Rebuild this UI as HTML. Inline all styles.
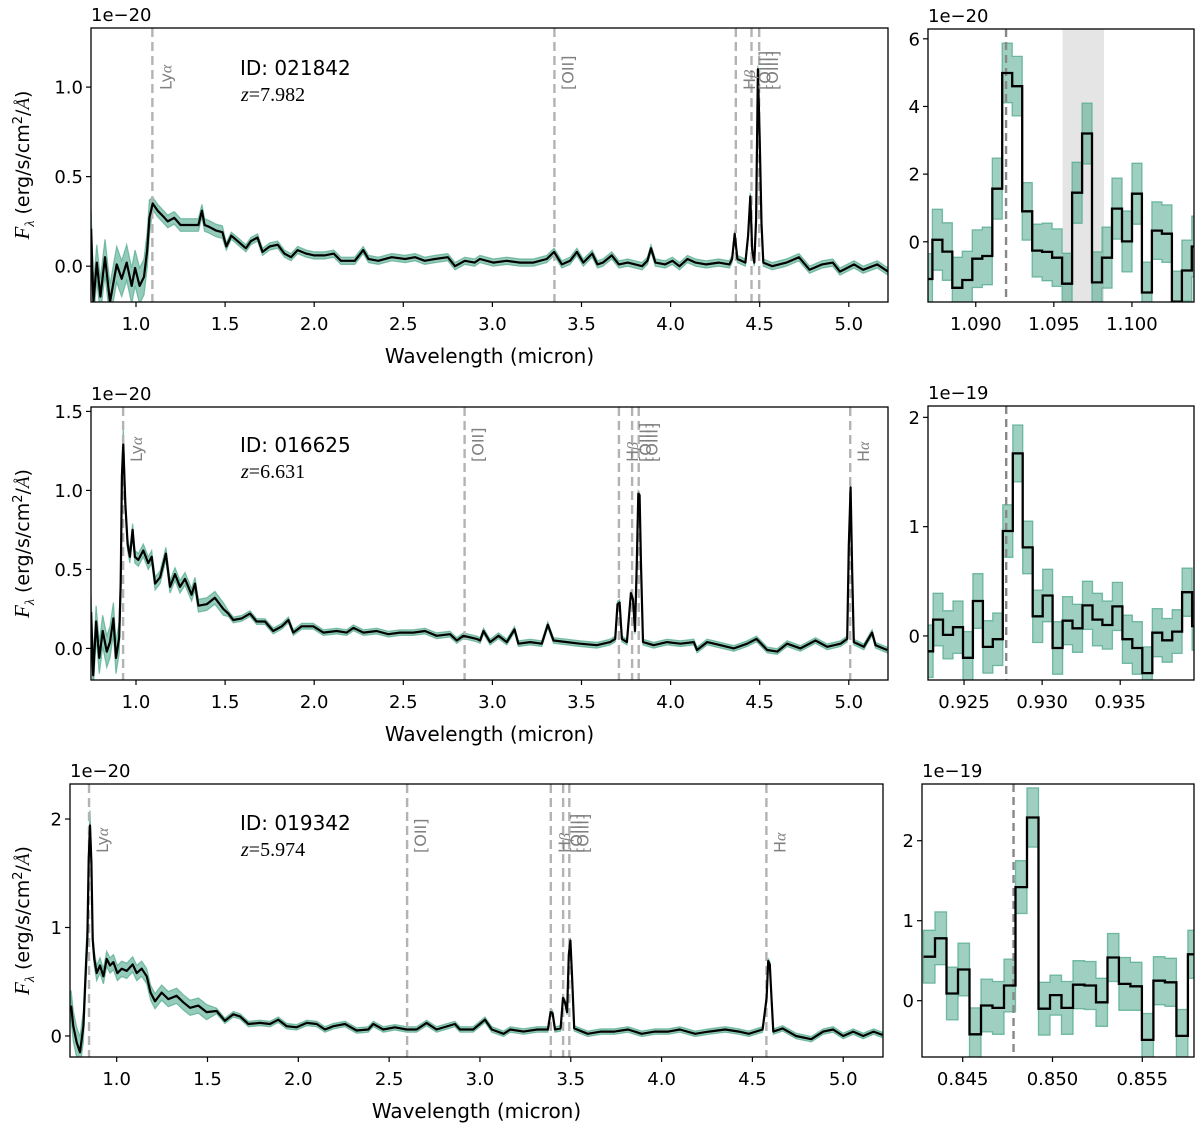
<!DOCTYPE html>
<html><head><meta charset="utf-8"><style>
html,body{margin:0;padding:0;background:#fff;}
svg{display:block;font-family:"DejaVu Sans","Liberation Sans",sans-serif;}
</style></head><body>
<svg id="fig" width="1200" height="1130" viewBox="0 0 1200 1130" xmlns="http://www.w3.org/2000/svg"></svg>
<script>
// ---------- Panel 1 (ID 021842) ----------
const p1Wave=[0.748,0.761,0.78,0.80,0.826,0.854,0.892,0.92,0.948,0.976,0.995,1.02,1.045,1.063,1.075,1.094,1.122,1.16,1.178,1.215,1.25,1.29,1.33,1.35,1.37,1.385,1.41,1.447,1.485,1.507,1.535,1.57,1.617,1.645,1.682,1.71,1.75,1.795,1.833,1.87,1.907,1.955,2.0,2.057,2.11,2.15,2.2,2.228,2.275,2.305,2.36,2.435,2.51,2.566,2.62,2.678,2.75,2.79,2.845,2.9,2.93,3.005,3.08,3.155,3.23,3.305,3.346,3.39,3.436,3.474,3.51,3.56,3.59,3.62,3.67,3.71,3.76,3.84,3.87,3.89,3.915,3.97,4.01,4.05,4.095,4.14,4.2,4.27,4.33,4.345,4.36,4.375,4.42,4.435,4.447,4.458,4.47,4.48,4.49,4.5,4.51,4.52,4.57,4.65,4.72,4.78,4.85,4.91,4.95,5.03,5.08,5.16,5.22];
const p1Flux=[0.21,-0.2,0.02,-0.17,0.05,-0.2,0.01,-0.07,0.02,-0.11,-0.01,-0.11,-0.06,0.09,0.27,0.35,0.31,0.27,0.25,0.27,0.23,0.23,0.23,0.23,0.31,0.23,0.22,0.2,0.19,0.11,0.17,0.14,0.1,0.14,0.16,0.08,0.11,0.12,0.07,0.05,0.09,0.07,0.06,0.06,0.07,0.03,0.03,0.03,0.09,0.04,0.03,0.05,0.04,0.05,0.03,0.04,0.05,0.0,0.03,0.02,0.04,0.02,0.03,0.02,0.02,0.04,0.08,0.01,0.03,0.08,0.02,0.07,0.01,0.02,0.06,0.01,0.02,0.0,0.03,0.1,0.02,0.01,0.03,0.0,0.04,0.02,0.01,0.02,0.01,0.04,0.18,0.04,0.02,0.17,0.39,0.09,0.02,0.26,1.1,0.71,0.24,0.02,0.0,0.02,0.05,-0.02,0.01,0.02,-0.03,0.01,-0.02,0.01,-0.03];
const p1ErrBreak=[1.09,1.5,99];
const p1ErrVal=[0.1,0.035,0.02];
const p1LineWave=[1.0919,3.348,4.366,4.454,4.497];
const p1LineName=["Lyα","[OII]","Hβ","[OIII]","[OIII]"];
const p1InsetStart=1.086583, p1InsetBin=0.000639;
const p1InsetFlux=[-1.1,0.06,-0.29,-1.36,-1.13,-0.5,-0.42,1.57,4.99,4.6,0.9,-0.26,-0.3,-0.47,-1.24,1.45,3.2,-1.2,-0.47,0.98,0.01,1.42,-1.5,0.33,0.24,-1.77,-0.85,-0.14];
const p1InsetErr=[0.75,0.9,0.85,0.9,0.85,0.85,0.85,0.9,0.88,0.88,0.85,0.78,0.85,0.85,0.9,0.9,0.9,0.9,0.9,0.9,0.9,0.9,0.9,0.85,0.85,0.9,0.9,0.9];
const p1Shade=[1.09556,1.09821];

// ---------- Panel 2 (ID 016625) ----------
const p2Wave=[0.748,0.760,0.776,0.794,0.813,0.836,0.854,0.873,0.888,0.906,0.914,0.921,0.929,0.94,0.953,0.966,0.981,0.994,1.013,1.041,1.069,1.088,1.107,1.135,1.168,1.191,1.219,1.247,1.275,1.312,1.331,1.35,1.397,1.443,1.49,1.518,1.546,1.593,1.64,1.677,1.724,1.77,1.818,1.855,1.883,1.93,1.995,2.051,2.126,2.182,2.22,2.276,2.35,2.416,2.481,2.556,2.622,2.687,2.762,2.8,2.837,2.912,2.931,2.95,2.987,3.034,3.081,3.124,3.146,3.212,3.277,3.311,3.343,3.418,3.493,3.586,3.661,3.689,3.702,3.714,3.727,3.755,3.777,3.789,3.8,3.811,3.819,3.826,3.834,3.845,3.905,3.98,4.055,4.13,4.148,4.205,4.28,4.355,4.43,4.482,4.542,4.598,4.654,4.729,4.813,4.879,4.954,4.991,5.0,5.01,5.019,5.028,5.084,5.131,5.15,5.215];
const p2Flux=[0.23,-0.17,0.17,-0.06,0.11,-0.02,0.04,0.19,-0.06,0.07,0.41,1.09,1.29,0.92,0.66,0.58,0.75,0.58,0.56,0.62,0.54,0.58,0.41,0.45,0.6,0.39,0.47,0.39,0.44,0.34,0.41,0.27,0.28,0.32,0.25,0.22,0.18,0.19,0.22,0.17,0.17,0.11,0.14,0.18,0.1,0.14,0.14,0.1,0.11,0.1,0.13,0.1,0.11,0.09,0.1,0.1,0.11,0.08,0.09,0.05,0.08,0.06,0.05,0.11,0.04,0.08,0.04,0.12,0.03,0.04,0.03,0.15,0.05,0.04,0.03,0.02,0.04,0.06,0.28,0.29,0.06,0.04,0.35,0.31,0.11,0.57,0.98,0.97,0.53,0.04,0.02,0.04,0.03,0.04,-0.01,0.04,0.02,0.0,0.03,0.06,-0.01,-0.02,0.03,0.0,0.05,0.01,0.03,0.06,0.65,1.02,0.48,0.04,0.01,0.1,0.02,-0.01];
const p2ErrBreak=[0.93,1.5,99];
const p2ErrVal=[0.1,0.04,0.018];
const p2LineWave=[0.9277,2.844,3.710,3.784,3.821,5.008];
const p2LineName=["Lyα","[OII]","Hβ","[OIII]","[OIII]","Hα"];
const p2InsetStart=0.922378, p2InsetBin=0.000638;
const p2InsetFlux=[-0.14,0.15,0.01,0.08,-0.2,0.32,-0.10,-0.03,0.96,1.67,0.81,0.18,0.37,-0.11,0.14,0.07,0.28,0.15,0.10,0.27,-0.03,-0.11,-0.34,0.03,-0.04,0.04,0.40,0.09];
const p2InsetErr=[0.24,0.24,0.22,0.24,0.24,0.25,0.24,0.24,0.24,0.26,0.24,0.24,0.24,0.24,0.22,0.22,0.22,0.24,0.22,0.22,0.22,0.24,0.24,0.22,0.2,0.2,0.22,0.22];

// ---------- Panel 3 (ID 019342) ----------
const p3Wave=[0.749,0.761,0.78,0.798,0.817,0.831,0.839,0.846,0.853,0.861,0.868,0.877,0.89,0.908,0.927,0.945,0.963,0.982,1.004,1.028,1.055,1.088,1.11,1.138,1.165,1.187,1.211,1.248,1.284,1.33,1.367,1.404,1.45,1.495,1.55,1.596,1.642,1.679,1.725,1.789,1.844,1.89,1.936,1.991,2.046,2.101,2.147,2.193,2.257,2.321,2.385,2.413,2.468,2.532,2.596,2.651,2.706,2.761,2.862,2.89,2.963,3.028,3.065,3.13,3.167,3.24,3.315,3.374,3.389,3.4,3.413,3.444,3.457,3.468,3.48,3.489,3.498,3.507,3.519,3.593,3.667,3.74,3.815,3.89,3.963,4.037,4.1,4.185,4.26,4.35,4.426,4.48,4.556,4.578,4.587,4.596,4.605,4.615,4.667,4.74,4.824,4.89,4.944,5.0,5.055,5.11,5.167,5.215];
const p3Flux=[0.28,0.09,-0.06,-0.15,0.09,0.65,0.92,1.63,1.94,1.6,0.89,0.71,0.58,0.65,0.55,0.71,0.65,0.68,0.58,0.62,0.6,0.66,0.58,0.62,0.55,0.4,0.32,0.4,0.34,0.37,0.31,0.26,0.28,0.22,0.23,0.14,0.2,0.18,0.11,0.12,0.11,0.15,0.09,0.08,0.12,0.11,0.06,0.09,0.11,0.05,0.06,0.11,0.06,0.08,0.06,0.06,0.12,0.06,0.11,0.06,0.06,0.15,0.06,0.02,0.06,0.04,0.06,0.06,0.22,0.21,0.06,0.07,0.35,0.31,0.22,0.75,0.88,0.56,0.07,0.02,0.04,0.04,0.06,0.02,0.04,0.04,0.06,0.02,0.04,0.06,0.04,0.02,0.06,0.35,0.69,0.66,0.35,0.04,0.07,0.0,-0.03,0.04,0.06,0.0,0.04,0.0,0.04,0.01];
const p3ErrBreak=[0.86,1.5,99];
const p3ErrVal=[0.14,0.07,0.025];
const p3LineWave=[0.8478,2.599,3.390,3.458,3.492,4.577];
const p3LineName=["Lyα","[OII]","Hβ","[OIII]","[OIII]","Hα"];
const p3InsetStart=0.84282, p3InsetBin=0.00064;
const p3InsetFlux=[0.55,0.78,0.09,0.39,-0.42,-0.06,-0.09,0.19,1.42,2.29,-0.10,0.07,-0.09,0.2,0.19,-0.02,0.54,0.21,0.18,-0.49,0.25,0.23,-0.44,0.58];
const p3InsetErr=[0.33,0.33,0.33,0.33,0.33,0.33,0.33,0.33,0.33,0.37,0.33,0.25,0.33,0.3,0.3,0.3,0.3,0.33,0.3,0.33,0.3,0.3,0.33,0.3];

// ---------- tick arrays ----------
const mainXTicks=[1.0,1.5,2.0,2.5,3.0,3.5,4.0,4.5,5.0];
const mainXLabels=["1.0","1.5","2.0","2.5","3.0","3.5","4.0","4.5","5.0"];
const p1YTicks=[0,0.5,1.0], p1YLabels=["0.0","0.5","1.0"];
const p2YTicks=[0,0.5,1.0,1.5], p2YLabels=["0.0","0.5","1.0","1.5"];
const p3YTicks=[0,1,2], p3YLabels=["0","1","2"];
const i1XTicks=[1.090,1.095,1.100], i1XLabels=["1.090","1.095","1.100"];
const i1YTicks=[0,2,4,6], i1YLabels=["0","2","4","6"];
const i2XTicks=[0.925,0.930,0.935], i2XLabels=["0.925","0.930","0.935"];
const i2YTicks=[0,1,2], i2YLabels=["0","1","2"];
const i3XTicks=[0.845,0.850,0.855], i3XLabels=["0.845","0.850","0.855"];
const i3YTicks=[0,1,2], i3YLabels=["0","1","2"];

const NS="http://www.w3.org/2000/svg";
const svg=document.getElementById('fig');
function el(tag,attrs,parent){const e=document.createElementNS(NS,tag);for(const k in attrs)e.setAttribute(k,attrs[k]);(parent||svg).appendChild(e);return e;}
let clipId=0;
function makeAxes(name,g){
  const grp=el('g',{});
  
  
  const sx=v=>g.L+(v-g.x0)/(g.x1-g.x0)*(g.R-g.L);
  const sy=v=>g.B-(v-g.y0)/(g.y1-g.y0)*(g.B-g.T);
  const cid='clip'+(clipId++);
  const cp=el('clipPath',{id:cid},grp);
  el('rect',{x:g.L,y:g.T,width:g.R-g.L,height:g.B-g.T},cp);
  const plot=el('g',{'clip-path':'url(#'+cid+')'},grp);
  return {grp,plot,sx,sy,g};
}
function frameAndTicks(ax,xt,xl,yt,yl,offset,xlabel){
  const {grp,sx,sy,g}=ax;
  const fr=el('rect',{x:g.L,y:g.T,width:g.R-g.L,height:g.B-g.T,fill:'none',stroke:'#000','stroke-width':1.3},grp);
  
  
  xt.forEach((v,i)=>{
    const x=sx(v);
    el('line',{x1:x,x2:x,y1:g.B,y2:g.B+5,stroke:'#000','stroke-width':1.2},grp);
    const t=el('text',{x:x,y:g.B+28,'font-size':18,'text-anchor':'middle',fill:'#000'},grp);
    t.textContent=xl[i];
    
    
  });
  yt.forEach((v,i)=>{
    const y=sy(v);
    el('line',{x1:g.L-5,x2:g.L,y1:y,y2:y,stroke:'#000','stroke-width':1.2},grp);
    const t=el('text',{x:g.L-8,y:y+6.5,'font-size':18,'text-anchor':'end',fill:'#000'},grp);
    t.textContent=yl[i];
    
    
  });
  const o=el('text',{x:g.L,y:g.T-7,'font-size':18,fill:'#000'},grp);
  o.textContent=offset;
  
  
  if(xlabel){
    const t=el('text',{x:(g.L+g.R)/2,y:g.B+61,'font-size':20,'text-anchor':'middle',fill:'#000'},grp);
    t.textContent='Wavelength (micron)';
    
    
    const yc=(g.T+g.B)/2;
    const yt2=el('text',{transform:'translate(29,'+yc+') rotate(-90)','font-size':19,'text-anchor':'middle',fill:'#000'},grp);
    
    
    yt2.innerHTML='<tspan font-family="Liberation Serif,serif" font-style="italic" font-size="21">F</tspan><tspan font-family="Liberation Serif,serif" font-style="italic" font-size="14" dy="5">λ</tspan><tspan dy="-5"> (erg/s/cm</tspan><tspan font-size="13" dy="-7">2</tspan><tspan dy="7">/</tspan><tspan font-family="Liberation Serif,serif" font-style="italic">Å</tspan><tspan>)</tspan>';
  }
}
function errAt(w,br,vals){for(let i=0;i<br.length;i++){if(w<br[i])return vals[i];}return vals[vals.length-1];}
function drawMain(ax,wave,flux,br,ev,lines,names,labelY,id,z,idY){
  const {plot,grp,sx,sy,g}=ax;
  const n=Math.min(wave.length,flux.length);
  let up='',lo='';
  for(let i=0;i<n;i++){const e=errAt(wave[i],br,ev);up+=(i?'L':'M')+sx(wave[i]).toFixed(1)+','+sy(flux[i]+e).toFixed(1);}
  for(let i=n-1;i>=0;i--){const e=errAt(wave[i],br,ev);lo+='L'+sx(wave[i]).toFixed(1)+','+sy(flux[i]-e).toFixed(1);}
  const band=el('path',{d:up+lo+'Z',fill:'#4ea88c','fill-opacity':0.6,stroke:'#4ea88c','stroke-opacity':0.7,'stroke-width':1.2},plot);
  
  
  lines.forEach((w,i)=>{
    const x=sx(w);
    const l=el('line',{x1:x,x2:x,y1:g.T,y2:g.B,stroke:'#b3b3b3','stroke-width':2.4,'stroke-dasharray':'9,5'},plot);
    
    
  });
  let d='';
  for(let i=0;i<n;i++){d+=(i?'L':'M')+sx(wave[i]).toFixed(1)+','+sy(flux[i]).toFixed(1);}
  const ln=el('path',{d:d,fill:'none',stroke:'#000','stroke-width':2.2,'stroke-linejoin':'round'},plot);
  
  
  lines.forEach((w,i)=>{
    const x=sx(w)+19;
    const t=el('text',{transform:'translate('+x+','+labelY+') rotate(-90)','font-size':16,fill:'#808080'},grp);
    
    
    const nm=names[i];
    if(nm==='Lyα')t.innerHTML='Ly<tspan font-family="Liberation Serif,serif" font-style="italic">α</tspan>';
    else if(nm==='Hβ')t.innerHTML='H<tspan font-family="Liberation Serif,serif" font-style="italic">β</tspan>';
    else if(nm==='Hα')t.innerHTML='H<tspan font-family="Liberation Serif,serif" font-style="italic">α</tspan>';
    else t.textContent=nm;
  });
  const idt=el('text',{x:240,y:idY,'font-size':20,fill:'#000'},grp);
  idt.textContent='ID: '+id;
  
  
  const zt=el('text',{x:241,y:idY+26,'font-size':20,fill:'#000','font-family':'Liberation Serif,serif'},grp);
  zt.innerHTML='<tspan font-style="italic">z</tspan>='+z;
  
  
}
function drawInset(ax,start,bin,flux,err,lineW,shade){
  const {plot,sx,sy,g}=ax;
  if(shade){
    const r=el('rect',{x:sx(shade[0]),y:g.T,width:sx(shade[1])-sx(shade[0]),height:g.B-g.T,fill:'#e5e5e5'},plot);
    
    
  }
  const n=flux.length;
  let up='',lo='',d='';
  for(let i=0;i<n;i++){
    const a=sx(start+i*bin),b=sx(start+(i+1)*bin);
    up+=(i?'L':'M')+a.toFixed(1)+','+sy(flux[i]+err[i]).toFixed(1)+'L'+b.toFixed(1)+','+sy(flux[i]+err[i]).toFixed(1);
    d+=(i?'L':'M')+a.toFixed(1)+','+sy(flux[i]).toFixed(1)+'L'+b.toFixed(1)+','+sy(flux[i]).toFixed(1);
  }
  for(let i=n-1;i>=0;i--){
    const a=sx(start+i*bin),b=sx(start+(i+1)*bin);
    lo+='L'+b.toFixed(1)+','+sy(flux[i]-err[i]).toFixed(1)+'L'+a.toFixed(1)+','+sy(flux[i]-err[i]).toFixed(1);
  }
  const band=el('path',{d:up+lo+'Z',fill:'#4ea88c','fill-opacity':0.55,stroke:'#4ea88c','stroke-opacity':0.75,'stroke-width':1.3},plot);
  
  
  const x=sx(lineW);
  const l=el('line',{x1:x,x2:x,y1:g.T,y2:g.B,stroke:'#888','stroke-width':2.4,'stroke-dasharray':'8,5'},plot);
  
  
  const ln=el('path',{d:d,fill:'none',stroke:'#000','stroke-width':2.3},plot);
  
  
}

// Panel 1
const a1=makeAxes('main-panel-021842',{L:91,R:888,T:28,B:302,x0:0.7475,x1:5.22,y0:-0.2,y1:1.33});
drawMain(a1,p1Wave,p1Flux,p1ErrBreak,p1ErrVal,p1LineWave,p1LineName,90,'021842','7.982',75);
frameAndTicks(a1,mainXTicks,mainXLabels,p1YTicks,p1YLabels,'1e−20',true);
const b1=makeAxes('inset-panel-021842',{L:928,R:1194,T:29,B:302,x0:1.086942,x1:1.103974,y0:-1.78,y1:6.29});
drawInset(b1,p1InsetStart,p1InsetBin,p1InsetFlux,p1InsetErr,1.09194,p1Shade);
frameAndTicks(b1,i1XTicks,i1XLabels,i1YTicks,i1YLabels,'1e−20',false);

// Panel 2
const a2=makeAxes('main-panel-016625',{L:91,R:888,T:407,B:680,x0:0.7475,x1:5.22,y0:-0.2,y1:1.528});
drawMain(a2,p2Wave,p2Flux,p2ErrBreak,p2ErrVal,p2LineWave,p2LineName,462,'016625','6.631',452);
frameAndTicks(a2,mainXTicks,mainXLabels,p2YTicks,p2YLabels,'1e−20',true);
const b2=makeAxes('inset-panel-016625',{L:928,R:1194,T:406,B:680,x0:0.922692,x1:0.939725,y0:-0.403,y1:2.104});
drawInset(b2,p2InsetStart,p2InsetBin,p2InsetFlux,p2InsetErr,0.92770,null);
frameAndTicks(b2,i2XTicks,i2XLabels,i2YTicks,i2YLabels,'1e−19',false);

// Panel 3
const a3=makeAxes('main-panel-019342',{L:70,R:883,T:784,B:1057,x0:0.743,x1:5.219,y0:-0.194,y1:2.323});
drawMain(a3,p3Wave,p3Flux,p3ErrBreak,p3ErrVal,p3LineWave,p3LineName,853,'019342','5.974',830);
frameAndTicks(a3,mainXTicks,mainXLabels,p3YTicks,p3YLabels,'1e−20',true);
const b3=makeAxes('inset-panel-019342',{L:922,R:1194,T:784,B:1057,x0:0.842734,x1:0.857879,y0:-0.704,y1:2.709});
drawInset(b3,p3InsetStart,p3InsetBin,p3InsetFlux,p3InsetErr,0.84783,null);
frameAndTicks(b3,i3XTicks,i3XLabels,i3YTicks,i3YLabels,'1e−19',false);
</script>
</body></html>
